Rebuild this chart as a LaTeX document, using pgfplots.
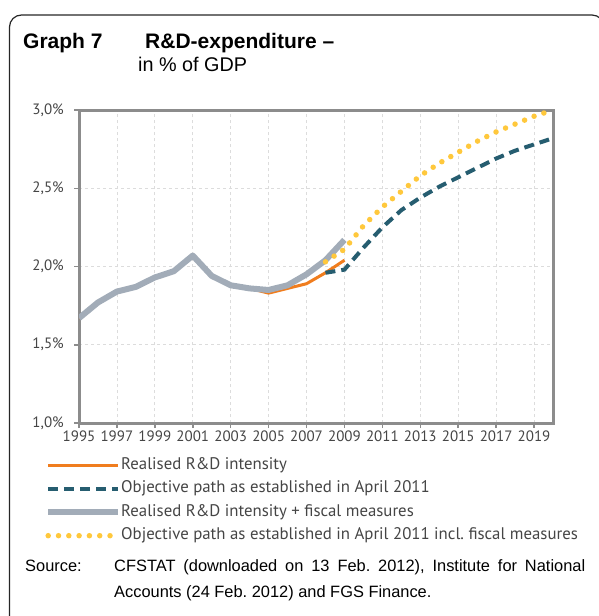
\documentclass[border=0pt]{standalone}
\usepackage{fontspec}
\setmainfont{Liberation Sans}
\newfontfamily\ptsans{PT Sans}
\usepackage{pgfplots}
\pgfplotsset{compat=1.18}
\definecolor{cOrange}{HTML}{F07D1E}
\definecolor{cBlue}{HTML}{265D70}
\definecolor{cGrey}{HTML}{A2ACB8}
\definecolor{cYellow}{HTML}{FFC83C}
\definecolor{cAxis}{HTML}{8C8C8C}
\definecolor{cGrid}{HTML}{DCDCDC}
\definecolor{cText}{HTML}{454545}
\frenchspacing
\begin{document}
\begin{tikzpicture}
\useasboundingbox (0pt,0pt) rectangle (598pt,-616pt);
\draw[line width=1.2pt, black!85, rounded corners=12pt] (9.5pt,-660pt) -- (9.5pt,-15pt) -- (604pt,-15pt) -- (604pt,-660pt);
\node[anchor=base west, inner sep=0pt, font=\bfseries\fontsize{21}{21}\selectfont] at (23pt,-48.3pt) {Graph 7};
\node[anchor=base west, inner sep=0pt, font=\bfseries\fontsize{21}{21}\selectfont] at (145pt,-48.3pt) {R\&D-expenditure –};
\node[anchor=base west, inner sep=0pt, font=\fontsize{19.8}{19.8}\selectfont] at (138pt,-71.5pt) {in \% of GDP};
\begin{axis}[
  at={(79pt,-423pt)}, anchor=south west,
  scale only axis, width=474pt, height=313pt,
  xmin=1995, xmax=2020, ymin=1, ymax=3,
  xtick={1995,1997,...,2019},
  xticklabels={1995,1997,1999,2001,2003,2005,2007,2009,2011,2013,2015,2017,2019},
  ytick={1,1.5,2,2.5,3},
  yticklabels={1{,}0\%,1{,}5\%,2{,}0\%,2{,}5\%,3{,}0\%},
  axis line style={cAxis, line width=3pt},
  every tick/.style={cAxis, line width=1.5pt},
  tick align=outside, major tick length=5pt,
  xtick pos=bottom, ytick pos=left,
  grid=major,
  major grid style={cGrid, line width=0.8pt, dash pattern=on 3pt off 3pt},
  tick label style={font=\ptsans\fontsize{15}{15}\selectfont, text=cText},
  xticklabel style={inner sep=0pt, yshift=-3pt, anchor=north},
  yticklabel style={inner sep=0pt, xshift=-10pt, anchor=east},
  legend style={at={(-0.0717,-0.1094)}, anchor=north west, draw=none, fill=none,
    inner sep=0pt, font=\ptsans\fontsize{16.8}{16.8}\selectfont, text=cText,
    row sep=8pt, nodes={inner sep=0pt, anchor=west, text height=12pt, text depth=3.5pt}},
  legend cell align=left,
  legend image code/.code={\draw[#1] (0pt,0pt) -- (70pt,0pt);},
  legend style={/tikz/every even column/.append style={column sep=7pt}},
]
\addplot[cOrange, line width=3pt, line join=round] coordinates {
 (1995,1.67) (1996,1.77) (1997,1.84) (1998,1.87) (1999,1.93) (2000,1.97)
 (2001,2.07) (2002,1.94) (2003,1.88) (2004,1.86) (2005,1.83) (2006,1.86)
 (2007,1.89) (2008,1.96) (2009,2.04)};
\addlegendentry{Realised R\&D intensity}
\addplot[cBlue, line width=4pt, dash pattern=on 10pt off 6pt] coordinates {
 (2008,1.96) (2009,1.98) (2010,2.12) (2011,2.25) (2012,2.36) (2013,2.44)
 (2014,2.51) (2015,2.57) (2016,2.63) (2017,2.69) (2018,2.74) (2019,2.78) (2020,2.82)};
\addlegendentry{Objective path as established in April 2011}
\addplot[cGrey, line width=6pt, line join=round] coordinates {
 (1995,1.67) (1996,1.77) (1997,1.84) (1998,1.87) (1999,1.93) (2000,1.97)
 (2001,2.07) (2002,1.94) (2003,1.88) (2004,1.86) (2005,1.85) (2006,1.88)
 (2007,1.95) (2008,2.04) (2009,2.17)};
\addlegendentry{Realised R\&D intensity + fiscal measures}
\addplot[cYellow, line width=5.5pt, line cap=round, dash pattern=on 0pt off 10.3pt] coordinates {
 (2008,2.03) (2009,2.11) (2010,2.26) (2011,2.38) (2012,2.48) (2013,2.58)
 (2014,2.66) (2015,2.73) (2016,2.80) (2017,2.86) (2018,2.91) (2019,2.96) (2020,3.00)};
\addlegendentry{Objective path as established in April 2011 incl. fiscal measures}
\end{axis}
\node[anchor=base west, inner sep=0pt, font=\fontsize{16.4}{16.4}\selectfont] at (25pt,-571pt) {Source:};
\node[anchor=north west, inner sep=0pt, text width=471pt, align=justify, font=\fontsize{16.4}{26}\selectfont] at (114pt,-559pt) {\frenchspacing CFSTAT (downloaded on 13 Feb. 2012), Institute for National \mbox{Accounts} (24 Feb. 2012) and FGS \mbox{Finance.}};
\end{tikzpicture}
\end{document}
